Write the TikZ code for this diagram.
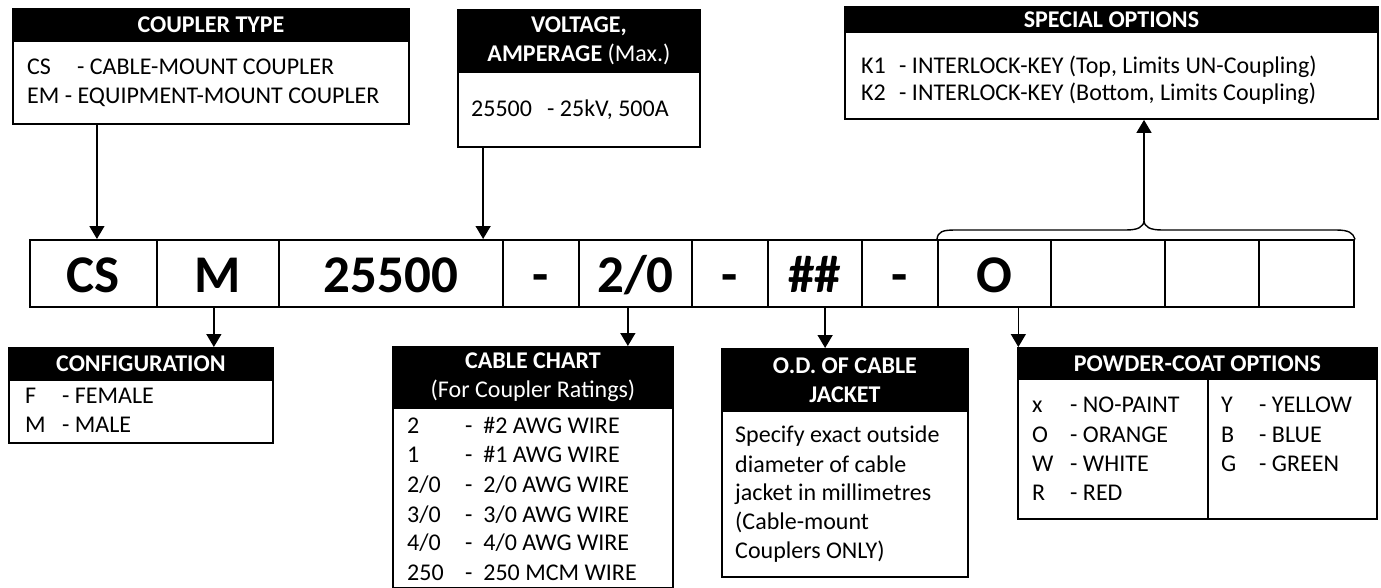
\documentclass[tikz,border=0pt]{standalone}
\usepackage{fontspec}
\setmainfont{Carlito}
\usetikzlibrary{arrows.meta,calc}
\newcommand\dghead{\fontsize{24pt}{29.3pt}\selectfont\bfseries}
\newcommand\dgbody{\fontsize{24pt}{29.3pt}\selectfont}
\newcommand\dgrow{\fontsize{53pt}{60pt}\selectfont\bfseries}
\begin{document}
\begin{tikzpicture}[x=1pt,y=-1pt,
  hdr/.style={draw=black, fill=black, line width=1.9pt, inner sep=0pt, anchor=north west, text=white, font=\dghead, align=center},
  bodybox/.style={draw=black, fill=white, line width=1.9pt, inner sep=0pt, anchor=north west},
  cell/.style={draw=black, line width=1.9pt, inner sep=0pt, anchor=north west, minimum height=67pt, font=\dgrow, text height=39pt, text depth=0pt},
  txt/.style={anchor=base west, inner sep=0pt, font=\dgbody},
  arr/.style={line width=1.4pt, -{Triangle[length=13pt,width=15pt]}},
  bracepath/.style={line width=1.4pt, line cap=round, line join=round}]
\useasboundingbox (0,0) rectangle (1381,588);

% ---- main code row ----
\node[cell, minimum width=127pt] (c1) at (29,239) {CS};
\node[cell, minimum width=122pt] (c2) at (156,239) {M};
\node[cell, minimum width=224pt] (c3) at (278,239) {25500};
\node[cell, minimum width=76pt]  (c4) at (502,239) {-};
\node[cell, minimum width=113pt] (c5) at (578,239) {2/0};
\node[cell, minimum width=76pt]  (c6) at (691,239) {-};
\node[cell, minimum width=94pt]  (c7) at (767,239) {\#\#};
\node[cell, minimum width=76pt]  (c8) at (861,239) {-};
\node[cell, minimum width=113pt] (c9) at (937,239) {O};
\node[cell, minimum width=114pt] (c10) at (1050,239) {};
\node[cell, minimum width=94pt]  (c11) at (1164,239) {};
\node[cell, minimum width=95pt]  (c12) at (1258,239) {};

% ---- COUPLER TYPE ----
\node[hdr, minimum width=396pt, minimum height=32pt] (cth) at (12,8) {COUPLER TYPE};
\node[bodybox, minimum width=396pt, minimum height=83pt] (ctb) at (12,40) {};
\node[txt] (ct1) at (27,75) {\makebox[50pt][l]{CS}- CABLE-MOUNT COUPLER};
\node[txt] (ct2) at (27,104) {EM - EQUIPMENT-MOUNT COUPLER};

% ---- VOLTAGE ----
\node[hdr, minimum width=242pt, minimum height=62pt] (vh) at (457,9) {VOLTAGE,\\AMPERAGE {\mdseries(Max.)}};
\node[bodybox, minimum width=242pt, minimum height=75pt] (vb) at (457,71) {};
\node[txt] (v1) at (471,117) {\makebox[76pt][l]{25500}- 25kV, 500A};

% ---- SPECIAL OPTIONS ----
\node[hdr, minimum width=533pt, minimum height=25pt] (sh) at (844,6) {SPECIAL OPTIONS};
\node[bodybox, minimum width=533pt, minimum height=87pt] (sb) at (844,31) {};
\node[txt] (s1) at (861,74) {\makebox[38pt][l]{K1}- INTERLOCK-KEY (Top, Limits UN-Coupling)};
\node[txt] (s2) at (861,101) {\makebox[38pt][l]{K2}- INTERLOCK-KEY (Bottom, Limits Coupling)};

% ---- CONFIGURATION ----
\node[hdr, minimum width=264pt, minimum height=32pt] (fh) at (8,347) {CONFIGURATION};
\node[bodybox, minimum width=264pt, minimum height=63pt] (fb) at (8,379) {};
\node[txt] (f1) at (25,403) {\makebox[37pt][l]{F}- FEMALE};
\node[txt] (f2) at (25,432) {\makebox[37pt][l]{M}- MALE};

% ---- CABLE CHART ----
\node[hdr, minimum width=280pt, minimum height=61pt] (kh) at (392,346) {CABLE CHART\\{\mdseries(For Coupler Ratings)}};
\node[bodybox, minimum width=280pt, minimum height=180pt] (kb) at (392,407) {};
\node[txt] (k1) at (407,433) {\makebox[58pt][l]{2}-\ \ \#2 AWG WIRE};
\node[txt] (k2) at (407,462) {\makebox[58pt][l]{1}-\ \ \#1 AWG WIRE};
\node[txt] (k3) at (407,492) {\makebox[58pt][l]{2/0}-\ \ 2/0 AWG WIRE};
\node[txt] (k4) at (407,522) {\makebox[58pt][l]{3/0}-\ \ 3/0 AWG WIRE};
\node[txt] (k5) at (407,550) {\makebox[58pt][l]{4/0}-\ \ 4/0 AWG WIRE};
\node[txt] (k6) at (407,580) {\makebox[58pt][l]{250}-\ \ 250 MCM WIRE};

% ---- O.D. OF CABLE JACKET ----
\node[hdr, minimum width=246pt, minimum height=62pt] (oh) at (721,348) {O.D. OF CABLE\\JACKET};
\node[bodybox, minimum width=246pt, minimum height=166pt] (ob) at (721,410) {};
\node[txt] (o1) at (735,442) {Specify exact outside};
\node[txt] (o2) at (735,472) {diameter of cable};
\node[txt] (o3) at (735,500) {jacket in millimetres};
\node[txt] (o4) at (735,529) {(Cable-mount};
\node[txt] (o5) at (735,558) {Couplers ONLY)};

% ---- POWDER-COAT OPTIONS ----
\node[hdr, minimum width=359pt, minimum height=31pt] (ph) at (1017,347) {POWDER-COAT OPTIONS};
\node[bodybox, minimum width=190pt, minimum height=140pt] (pb1) at (1017,378) {};
\node[bodybox, minimum width=169pt, minimum height=140pt] (pb2) at (1207,378) {};
\node[txt] (p1) at (1032,412) {\makebox[38pt][l]{x}- NO-PAINT};
\node[txt] (p2) at (1032,442) {\makebox[38pt][l]{O}- ORANGE};
\node[txt] (p3) at (1032,471) {\makebox[38pt][l]{W}- WHITE};
\node[txt] (p4) at (1032,500) {\makebox[38pt][l]{R}- RED};
\node[txt] (p5) at (1221,412) {\makebox[38pt][l]{Y}- YELLOW};
\node[txt] (p6) at (1221,442) {\makebox[38pt][l]{B}- BLUE};
\node[txt] (p7) at (1221,471) {\makebox[38pt][l]{G}- GREEN};

% ---- connectors ----
\coordinate (a1) at ($(c1.north west)!0.527!(c1.north east)$);
\coordinate (a3) at ($(c3.north west)!0.908!(c3.north east)$);
\coordinate (b2) at ($(c2.south west)!0.467!(c2.south east)$);
\coordinate (b5) at ($(c5.south west)!0.434!(c5.south east)$);
\coordinate (b7) at ($(c7.south west)!0.606!(c7.south east)$);
\coordinate (b9) at ($(c9.south west)!0.708!(c9.south east)$);
\coordinate (btip) at (1144,220);

\draw[arr] (ctb.south -| a1) -- (a1);
\draw[arr] (vb.south -| a3) -- (a3);
\draw[arr] (b2) -- (b2 |- fh.north);
\draw[arr] (b5) -- (b5 |- kh.north);
\draw[arr] (b7) -- (b7 |- oh.north);
\draw[arr] (b9) -- (b9 |- ph.north);
\draw[arr] (btip) -- (btip |- sb.south);

% ---- brace over the option cells ----
\draw[bracepath] (c9.north west) .. controls (938,232) and (942,230) .. (955,230)
  -- (1126,230) .. controls (1138,230) and (1144,227) .. (btip)
  .. controls (1144,227) and (1150,230) .. (1162,230)
  -- (1336,230) .. controls (1349,230) and (1353,233) .. (c12.north east);
\end{tikzpicture}
\end{document}
